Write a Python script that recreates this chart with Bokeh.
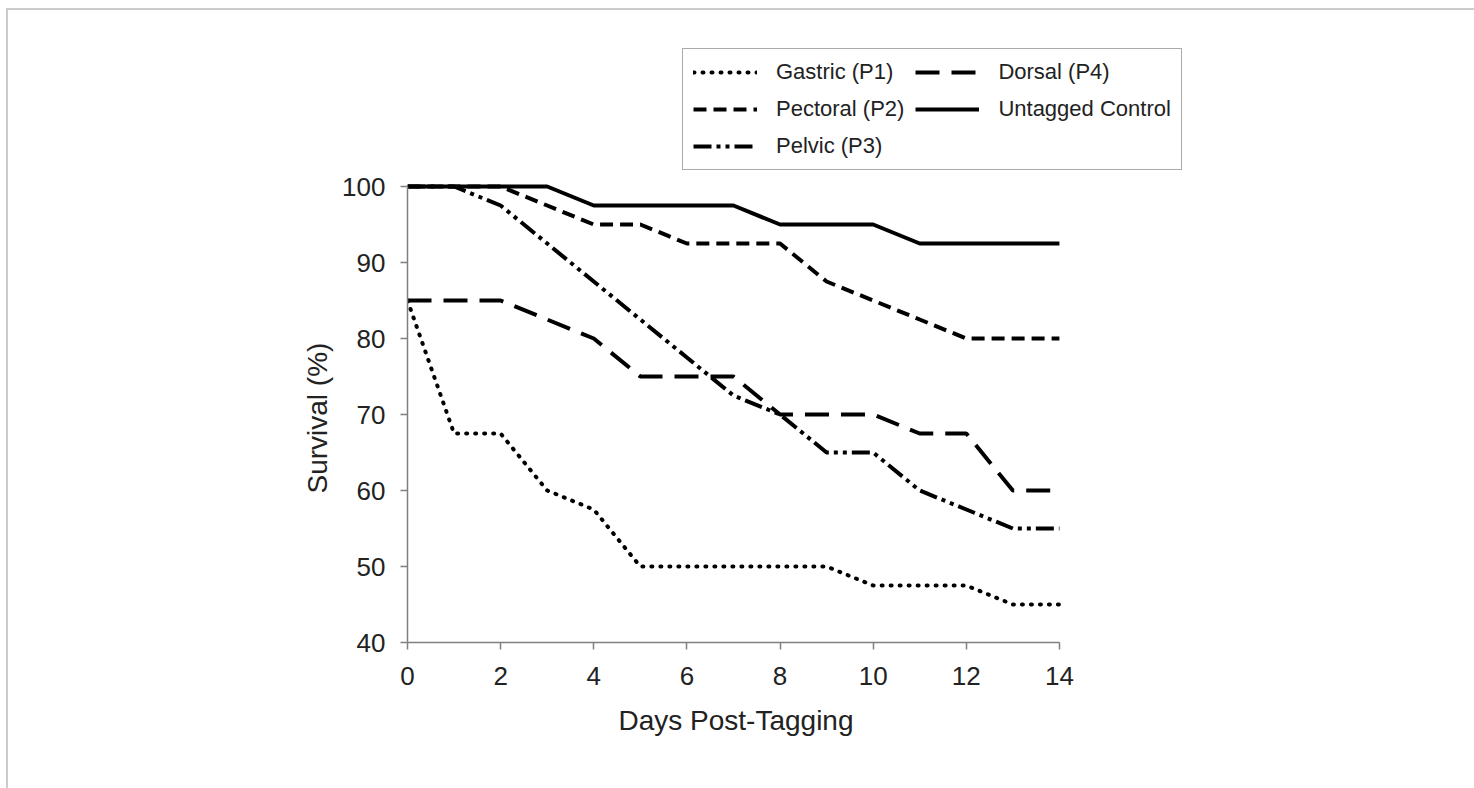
from bokeh.plotting import figure
from bokeh.models import Range1d, Legend, LegendItem, FixedTicker, Title
from bokeh.embed import file_html
from bokeh.resources import INLINE

days = list(range(15))
gastric = [85, 67.5, 67.5, 60, 57.5, 50, 50, 50, 50, 50, 47.5, 47.5, 47.5, 45, 45]
pectoral = [100, 100, 100, 97.5, 95, 95, 92.5, 92.5, 92.5, 87.5, 85, 82.5, 80, 80, 80]
pelvic = [100, 100, 97.5, 92.5, 87.5, 82.5, 77.5, 72.5, 70, 65, 65, 60, 57.5, 55, 55]
dorsal = [85, 85, 85, 82.5, 80, 75, 75, 75, 70, 70, 70, 67.5, 67.5, 60, 60]
control = [100, 100, 100, 100, 97.5, 97.5, 97.5, 97.5, 95, 95, 95, 92.5, 92.5, 92.5, 92.5]

x_ticks = [0, 2, 4, 6, 8, 10, 12, 14]
y_ticks = [40, 50, 60, 70, 80, 90, 100]

FONT = "Liberation Sans"
TXT = "#222222"

p = figure(width=1466, height=778, output_backend="svg", toolbar_location=None,
           x_range=Range1d(0, 17.03), y_range=Range1d(40, 120.53),
           min_border_left=399, min_border_top=20, min_border_bottom=146,
           min_border_right=274, frame_width=793, frame_height=612)
p.styles = {"margin-left": "6px", "margin-top": "8px",
            "border-left": "2px solid #cccccc", "border-top": "2px solid #cccccc"}
p.outline_line_color = None
p.grid.visible = False
p.background_fill_color = "white"

LW = 4
r1 = p.line(days, gastric, line_width=LW, color="black", line_dash="1 8", line_cap="round")
r2 = p.line(days, pectoral, line_width=LW, color="black", line_dash="13 7")
r3 = p.line(days, pelvic, line_width=LW, color="black", line_dash="18 5 4 5 4 5")
r4 = p.line(days, dorsal, line_width=LW, color="black", line_dash="24 12")
r5 = p.line(days, control, line_width=LW, color="black")

for ax in (p.xaxis[0], p.yaxis[0]):
    ax.axis_line_color = "#808080"
    ax.axis_line_width = 1.5
    ax.major_tick_line_color = "#808080"
    ax.major_tick_line_width = 1.5
    ax.major_tick_in = 0
    ax.major_tick_out = 7
    ax.minor_tick_line_color = None
    ax.major_label_text_font = FONT
    ax.major_label_text_font_size = "26px"
    ax.major_label_text_color = TXT

p.xaxis.ticker = FixedTicker(ticks=x_ticks)
p.yaxis.ticker = FixedTicker(ticks=y_ticks)
p.xaxis.bounds = (0, 14)
p.yaxis.bounds = (40, 100)
p.xaxis.major_label_standoff = 17
p.yaxis.major_label_standoff = 15

xt = Title(text="Days Post-Tagging", align="left", offset=211,
           text_font=FONT, text_font_size="28px", text_font_style="normal",
           text_color=TXT, standoff=30)
yt = Title(text="Survival (%)", align="left", offset=149,
           text_font=FONT, text_font_size="28px", text_font_style="normal",
           text_color=TXT, standoff=14)
p.add_layout(xt, "below")
p.add_layout(yt, "left")

legend = Legend(items=[
    LegendItem(label="Gastric (P1)", renderers=[r1]),
    LegendItem(label="Pectoral (P2)", renderers=[r2]),
    LegendItem(label="Pelvic (P3)", renderers=[r3]),
    LegendItem(label="Dorsal (P4)", renderers=[r4]),
    LegendItem(label="Untagged Control", renderers=[r5]),
], location=(275, 472), nrows=3, orientation="vertical")
legend.border_line_color = "#555555"
legend.border_line_width = 1.5
legend.background_fill_alpha = 1
legend.label_text_font = FONT
legend.label_text_font_size = "22px"
legend.label_text_color = TXT
legend.glyph_width = 64
legend.glyph_height = 22
legend.label_standoff = 19
legend.spacing = 11
legend.padding = 10
legend.margin = 0
legend.label_height = 22
p.add_layout(legend, "center")

open("out.html", "w").write(file_html(p, INLINE))
